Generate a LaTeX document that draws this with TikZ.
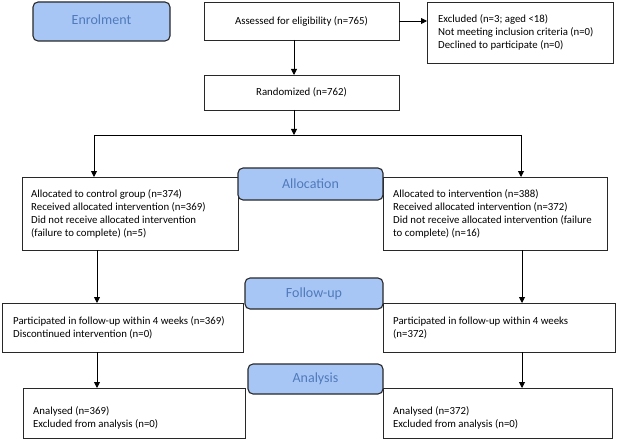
\documentclass[tikz,border=0pt]{standalone}
\usepackage{fontspec}
\setmainfont{Carlito}
\usetikzlibrary{arrows.meta,calc}
\definecolor{lblfill}{RGB}{168,198,245}
\definecolor{lbltext}{RGB}{79,122,187}
\definecolor{edge}{RGB}{40,40,40}
\newcommand\cbox[6]{%
  \node[box, minimum width={#4pt-#2pt}, minimum height={#5pt-#3pt}] (#1) at ({(#2+#4)/2},{(#3+#5)/2}) {};}
\newcommand\lbox[6]{%
  \node[lbl, minimum width={#4pt-#2pt}, minimum height={#5pt-#3pt}] (#1) at ({(#2+#4)/2},{(#3+#5)/2}) {#6};}
\begin{document}
\begin{tikzpicture}[x=1pt,y=-1pt,
  box/.style={draw=edge, line width=0.9pt, fill=white, inner sep=0pt, outer sep=0pt},
  lbl/.style={draw=edge, line width=1.1pt, rounded corners=5pt, fill=lblfill, text=lbltext, font=\fontsize{14}{16}\selectfont, inner sep=0pt, outer sep=0pt},
  arr/.style={-{Triangle[length=6pt,width=6pt]}, line width=0.9pt, draw=black},
  ln/.style={line width=0.9pt, draw=black},
  txt/.style={font=\fontsize{10.8}{13}\selectfont, align=left, anchor=west, inner sep=0pt},
  ctxt/.style={font=\fontsize{10.8}{13}\selectfont, align=center, inner sep=0pt}
]
\useasboundingbox (0,0) rectangle (618,441);
% main boxes
\cbox{assess}{204}{2}{399}{40}{}
\node[ctxt] (assesst) at (assess.center) {Assessed for eligibility (n=765)};
\cbox{excl}{427}{2}{613}{63}{}
\node[txt] (exclt) at ([xshift=11pt]excl.west) {Excluded (n=3; aged <18)\\Not meeting inclusion criteria (n=0)\\Declined to participate (n=0)};
\cbox{rand}{204}{75}{399}{110}{}
\node[ctxt] (randt) at (rand.center) {Randomized (n=762)};
\cbox{ctrl}{22}{177}{238}{250}{}
\node[txt] (ctrlt) at ([xshift=9pt]ctrl.west) {Allocated to control group (n=374)\\Received allocated intervention (n=369)\\Did not receive allocated intervention\\(failure to complete) (n=5)};
\cbox{intv}{383}{177}{607}{250}{}
\node[txt] (intvt) at ([xshift=10pt]intv.west) {Allocated to intervention (n=388)\\Received allocated intervention (n=372)\\Did not receive allocated intervention (failure\\to complete) (n=16)};
\cbox{fl}{2}{303}{243}{352}{}
\node[txt] (flt) at ([xshift=11pt]fl.west) {Participated in follow-up within 4 weeks (n=369)\\Discontinued intervention (n=0)};
\cbox{fr}{383}{303}{615}{352}{}
\node[txt] (frt) at ([xshift=10pt]fr.west) {Participated in follow-up within 4 weeks\\(n=372)};
\cbox{al}{23}{388}{245}{438}{}
\node[txt] (alt) at ([xshift=10pt,yshift=-5pt]al.west) {Analysed (n=369)\\Excluded from analysis (n=0)};
\cbox{ar}{383}{388}{612}{438}{}
\node[txt] (art) at ([xshift=10pt,yshift=-5pt]ar.west) {Analysed (n=372)\\Excluded from analysis (n=0)};
% connectors
\coordinate (split) at (294,135);
\coordinate (sl) at (94,135);
\coordinate (sr) at (521,135);
\draw[arr] ([xshift=-7.5pt]assess.south) -- ([xshift=-7.5pt]rand.north);
\draw[arr] (assess.east) -- (excl.west |- assess.east);
\draw[arr] (rand.south -| split) -- (split);
\draw[ln] (sl) -- (sr);
\draw[arr] (sl) -- (ctrl.north -| sl);
\draw[arr] (sr) -- (intv.north -| sr);
\coordinate (cx) at (97,0);
\coordinate (ix) at (522,0);
\draw[arr] (ctrl.south -| cx) -- (fl.north -| cx);
\draw[arr] (intv.south -| ix) -- (fr.north -| ix);
\draw[arr] (fl.south -| cx) -- (al.north -| cx);
\draw[arr] (fr.south -| ix) -- (ar.north -| ix);
% stage labels
\lbox{enrol}{33}{2}{170}{41}{\raisebox{3pt}{Enrolment}}
\lbox{alloc}{238}{168}{383}{200}{Allocation}
\lbox{follow}{245}{278}{383}{309}{Follow-up}
\lbox{anal}{248}{364}{383}{394}{Analysis}
\end{tikzpicture}
\end{document}
